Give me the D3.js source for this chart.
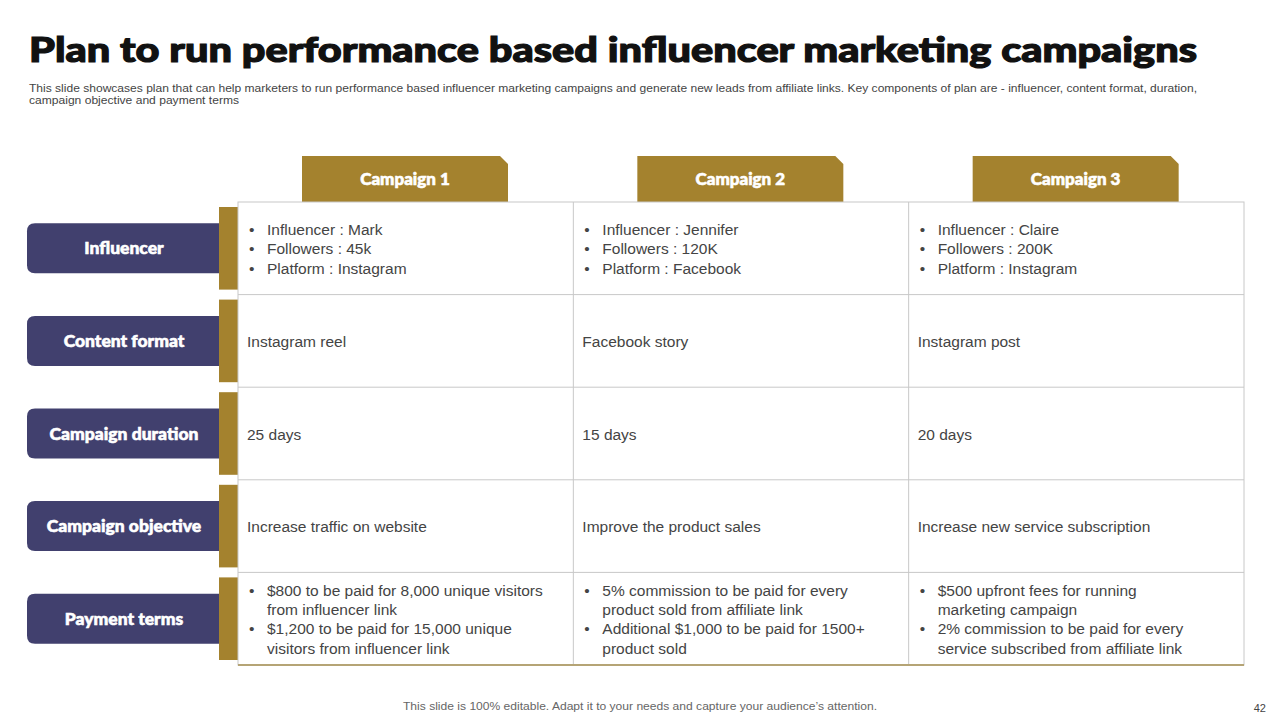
<!DOCTYPE html>
<html><head><meta charset="utf-8">
<script src="https://cdn.jsdelivr.net/npm/d3@7"></script>
<style>body{margin:0;background:#fff}svg{display:block}</style>
</head><body><svg id="c" width="1280" height="720"></svg>
<script>
const campaigns = ["Campaign 1", "Campaign 2", "Campaign 3"];
const rowLabels = ["Influencer", "Content format", "Campaign duration", "Campaign objective", "Payment terms"];
// each cell: list of bullets (array of lines) or plain lines
const cells = [
  [{b: [["Influencer   : Mark"], ["Followers : 45k"], ["Platform : Instagram"]]},
   {b: [["Influencer  : Jennifer"], ["Followers : 120K"], ["Platform : Facebook"]]},
   {b: [["Influencer  : Claire"], ["Followers : 200K"], ["Platform : Instagram"]]}],
  [{t: "Instagram reel"}, {t: "Facebook story"}, {t: "Instagram post"}],
  [{t: "25 days"}, {t: "15 days"}, {t: "20 days"}],
  [{t: "Increase traffic on website"}, {t: "Improve the product sales"}, {t: "Increase new service subscription"}],
  [{b: [["$800 to be paid for 8,000 unique visitors", "from influencer  link"], ["$1,200 to be paid for 15,000 unique", "visitors from influencer  link"]]},
   {b: [["5% commission to be paid for every", "product sold from affiliate link"], ["Additional $1,000 to be paid for 1500+", "product sold"]]},
   {b: [["$500 upfront fees for running", "marketing campaign"], ["2% commission to be paid for every", "service subscribed from affiliate link"]]}]
];

const gold = "#A4822E", navy = "#41406E";
const svg = d3.select("#c");

svg.append("text").attr("x", 29).attr("y", 62).attr("font-family", "Lato").attr("font-weight", 900)
  .attr("font-size", 35).attr("fill", "#111").attr("stroke", "#111").attr("stroke-width", 1.2)
  .attr("textLength", 1168).attr("lengthAdjust", "spacingAndGlyphs")
  .text("Plan to run performance based influencer marketing campaigns");
const sub = [["This slide showcases plan that can help marketers to run performance based influencer marketing campaigns and generate new leads from  affiliate links. Key components of plan are - influencer, content format, duration,", 1168],
  ["campaign objective and payment terms", 210]];
sub.forEach((s, i) => svg.append("text").attr("x", 29).attr("y", 92 + i * 12).attr("font-family", "Liberation Sans")
  .attr("font-size", 10.5).attr("fill", "#444").attr("textLength", s[1]).attr("lengthAdjust", "spacingAndGlyphs").text(s[0]));

const x = d3.scaleBand().domain(campaigns).range([238, 1244]);
const y = d3.scaleBand().domain(rowLabels).range([202, 665]);

// header tabs
campaigns.forEach(c => {
  const x0 = x(c) + 64, w = 206, y0 = 156, h = 46, ch = 8;
  svg.append("path").attr("d", `M${x0},${y0}H${x0 + w - ch}L${x0 + w},${y0 + ch}V${y0 + h}H${x0}Z`).attr("fill", gold);
  svg.append("text").attr("x", x0 + w / 2).attr("y", y0 + 29).attr("text-anchor", "middle")
    .attr("font-family", "Lato").attr("font-weight", 900).attr("font-size", 17).attr("fill", "#fff")
    .attr("stroke", "#fff").attr("stroke-width", 0.6).text(c);
});

// row labels
rowLabels.forEach(r => {
  const y0 = y(r), h = y.bandwidth();
  svg.append("rect").attr("x", 219).attr("y", y0 + 5).attr("width", 20).attr("height", h - 10).attr("fill", gold);
  const py = y0 + h / 2 - 25, r0 = 8;
  svg.append("path").attr("d", `M${27 + r0},${py}H219V${py + 50}H${27 + r0}Q27,${py + 50} 27,${py + 50 - r0}V${py + r0}Q27,${py} ${27 + r0},${py}Z`).attr("fill", navy);
  svg.append("text").attr("x", 124).attr("y", py + 31).attr("text-anchor", "middle").attr("font-family", "Lato")
    .attr("font-weight", 900).attr("font-size", 17.5).attr("fill", "#fff")
    .attr("stroke", "#fff").attr("stroke-width", 0.6).text(r);
});

// grid
const g = svg.append("g");
g.append("rect").attr("x", 238).attr("y", 202).attr("width", 1006).attr("height", 463).attr("fill", "#fff")
  .attr("stroke", "#c8c8c8");
rowLabels.slice(1).forEach(r => g.append("line").attr("x1", 238).attr("x2", 1244).attr("y1", y(r)).attr("y2", y(r)).attr("stroke", "#c8c8c8"));
campaigns.slice(1).forEach(c => g.append("line").attr("x1", x(c)).attr("x2", x(c)).attr("y1", 202).attr("y2", 665).attr("stroke", "#c8c8c8"));
g.append("line").attr("x1", 238).attr("x2", 1244).attr("y1", 665).attr("y2", 665).attr("stroke", "#b5a475").attr("stroke-width", 2);

// cell text
const lh = 19.2;
cells.forEach((row, ri) => row.forEach((cell, ci) => {
  const cx = x(campaigns[ci]) + 9, cy = y(rowLabels[ri]) + y.bandwidth() / 2;
  const t = svg.append("g").attr("font-family", "Liberation Sans").attr("font-size", 15.5).attr("fill", "#444");
  if (cell.t) {
    t.append("text").attr("x", cx).attr("y", cy + 6).text(cell.t);
  } else {
    const n = d3.sum(cell.b, b => b.length);
    let yy = cy - (n - 1) * lh / 2 + 6;
    cell.b.forEach(b => {
      t.append("text").attr("x", cx + 2).attr("y", yy).text("•");
      b.forEach(line => { t.append("text").attr("x", cx + 20).attr("y", yy).text(line); yy += lh; });
    });
  }
}));

svg.append("text").attr("x", 403).attr("y", 710).attr("font-family", "Liberation Sans")
  .attr("font-size", 11).attr("fill", "#666").attr("textLength", 474).attr("lengthAdjust", "spacingAndGlyphs")
  .text("This slide is 100% editable. Adapt it to your needs and capture your audience’s attention.");
svg.append("text").attr("x", 1266).attr("y", 712).attr("text-anchor", "end").attr("font-family", "Liberation Sans")
  .attr("font-size", 11).attr("fill", "#444").text("42");
</script></body></html>
